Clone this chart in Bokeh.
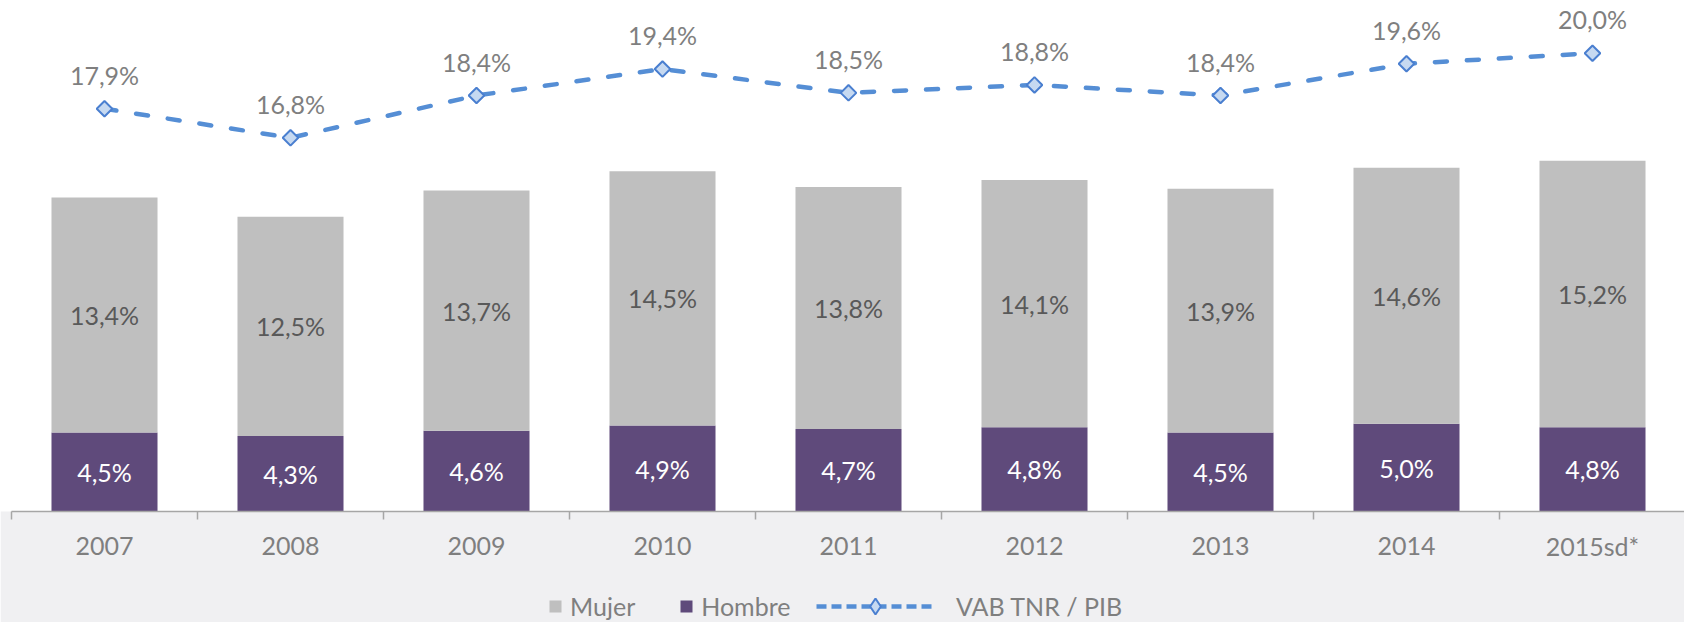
import numpy as np
from bokeh.plotting import figure
from bokeh.models import ColumnDataSource, Range1d, Legend, LegendItem, BoxAnnotation
from bokeh.core.properties import value
from bokeh.embed import file_html
from bokeh.resources import INLINE

categories = ["2007", "2008", "2009", "2010", "2011", "2012", "2013", "2014", "2015sd*"]
mujer = [13.4, 12.5, 13.7, 14.5, 13.8, 14.1, 13.9, 14.6, 15.2]
hombre = [4.5, 4.3, 4.6, 4.9, 4.7, 4.8, 4.5, 5.0, 4.8]
vab_pib = [17.9, 16.8, 18.4, 19.4, 18.5, 18.8, 18.4, 19.6, 20.0]

FONT = value("Lato")
W, H = 1684, 622
CAT_PX = 186          # pixels per category
LEFT = 11             # axis start
AXIS_Y = 511          # axis line, from top
BAR_PX = 17.54        # pixels per % (bars)
LINE_PX = 26.44       # pixels per % (line)
LINE_ZERO = 581.5     # where 0 % of the line scale would be, from top

GREY = "#bfbfbf"
PURPLE = "#5f4a7b"
BLUE = "#558ed5"


def fmt(v):
    return f"{v:.1f}%".replace(".", ",")


n = len(categories)
x = np.arange(n) + 0.5
h = np.array(hombre)
m = np.array(mujer)
src = ColumnDataSource(dict(
    x=x, hombre=h, total=h + m, hombre_mid=h / 2, mujer_mid=h + m / 2,
    vab=vab_pib, cat=categories,
    hombre_lbl=[fmt(v) for v in hombre],
    mujer_lbl=[fmt(v) for v in mujer],
    vab_lbl=[fmt(v) for v in vab_pib],
))

p = figure(width=W, height=H, output_backend="svg", toolbar_location=None,
           x_range=Range1d(-LEFT / CAT_PX, (W - LEFT) / CAT_PX),
           y_range=Range1d(-(H - AXIS_Y) / BAR_PX, AXIS_Y / BAR_PX),
           x_axis_location=None, y_axis_location=None,
           min_border_left=0, min_border_right=0, min_border_top=0, min_border_bottom=0)
p.extra_y_ranges = {"line": Range1d((LINE_ZERO - H) / LINE_PX, LINE_ZERO / LINE_PX)}

p.background_fill_color = "white"
p.border_fill_color = "white"
p.outline_line_color = None
p.xgrid.visible = False
p.ygrid.visible = False

# light grey band below the category axis
p.add_layout(BoxAnnotation(top=0, fill_color="#f0f0f2", fill_alpha=1.0,
                           line_color=None, level="underlay"))

r_h = p.vbar(x="x", bottom=0, top="hombre", width=0.57, fill_color=PURPLE,
             line_color=None, source=src)
r_m = p.vbar(x="x", bottom="hombre", top="total", width=0.57, fill_color=GREY,
             line_color=None, source=src)

r_line = p.line("x", "vab", y_range_name="line", line_color=BLUE, line_width=4.5,
                line_dash="12 20", line_cap="round", source=src)
r_mark = p.scatter("x", "vab", y_range_name="line", marker="square", angle=np.pi / 4,
                   size=11, fill_color="#c6d9f1", line_color="#4a7fd0", line_width=2,
                   source=src)

p.text("x", "mujer_mid", text="mujer_lbl", source=src, text_align="center",
       text_baseline="middle", text_font=FONT, text_font_size="25px", text_color="#595959")
p.text("x", "hombre_mid", text="hombre_lbl", source=src, text_align="center",
       text_baseline="middle", text_font=FONT, text_font_size="25px", text_color="white")
p.text("x", "vab", text="vab_lbl", source=src, y_range_name="line", y_offset=-34,
       text_align="center", text_baseline="middle", text_font=FONT,
       text_font_size="25px", text_color="#7f7f7f")

# category axis: line, boundary ticks, labels
bounds = np.arange(n + 1)
p.segment(x0=[0], y0=[0], x1=[n], y1=[0], line_color="#a6a6a6", line_width=1.5)
p.segment(x0=bounds, y0=np.zeros(n + 1), x1=bounds, y1=np.full(n + 1, -8 / BAR_PX),
          line_color="#a6a6a6", line_width=1.5)
p.text("x", 0, text="cat", source=src, y_offset=34, text_align="center",
       text_baseline="middle", text_font=FONT, text_font_size="25px", text_color="#7f7f7f")

# legend proxies (a single NaN point each, so nothing shows in the plot)
nan = [np.nan]
px_m = p.scatter(x=nan, y=nan, marker="square", fill_color=GREY, line_color=None)
px_h = p.scatter(x=nan, y=nan, marker="square", fill_color=PURPLE, line_color=None)
px_l = p.line(x=nan, y=nan, line_color=BLUE, line_width=4.5, line_dash="10 5")
px_d = p.scatter(x=nan, y=nan, marker="diamond", fill_color="#c6d9f1",
                 line_color="#4a7fd0", line_width=2)

common = dict(padding=0, margin=0, border_line_color=None, background_fill_alpha=0,
              label_text_font="Lato", label_text_font_size="25px",
              label_text_color="#7f7f7f", orientation="horizontal",
              label_text_baseline="middle")

leg1 = Legend(items=[LegendItem(label="Mujer", renderers=[px_m]),
                     LegendItem(label="Hombre", renderers=[px_h])],
              location=(540, 1), glyph_width=30, glyph_height=30,
              label_standoff=0, spacing=36, **common)
leg2 = Legend(items=[LegendItem(label="VAB TNR / PIB", renderers=[px_l, px_d])],
              location=(816, -4), glyph_width=118, glyph_height=40,
              label_standoff=22, **common)
p.add_layout(leg1)
p.add_layout(leg2)

open("out.html", "w").write(file_html(p, INLINE))
